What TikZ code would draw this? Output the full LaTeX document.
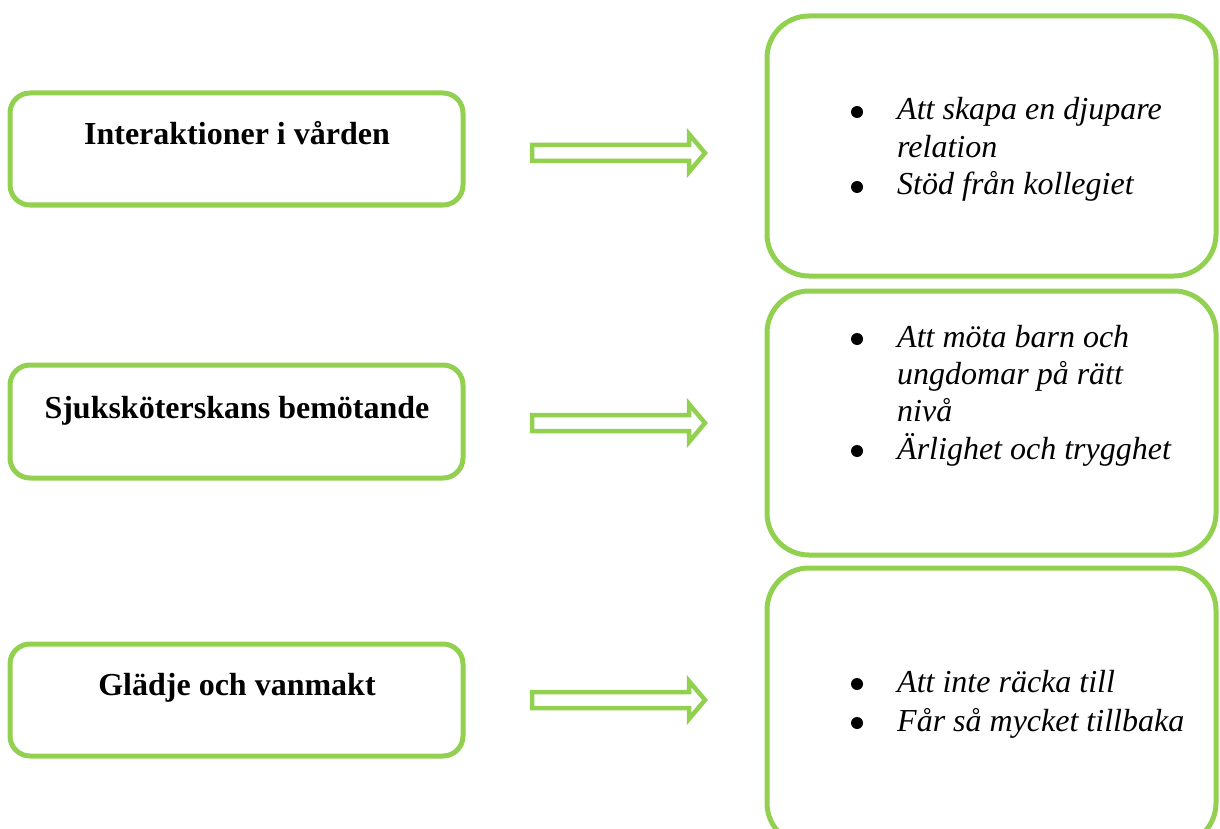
\documentclass[tikz,border=0pt]{standalone}
\usepackage{fontspec}
\setmainfont{Liberation Serif}
\definecolor{lgreen}{HTML}{92D050}
\begin{document}
\begin{tikzpicture}[x=1pt,y=-1pt,
  leftbox/.style={draw=lgreen,line width=5pt,rounded corners=20pt},
  rightbox/.style={draw=lgreen,line width=5pt,rounded corners=42pt},
  headtext/.style={font=\fontsize{32}{38}\selectfont\bfseries,anchor=base,inner sep=0pt},
  itemtext/.style={font=\fontsize{32}{38}\selectfont\itshape,anchor=base west,inner sep=0pt},
  bullet/.style={circle,fill=black,inner sep=0pt,minimum size=12pt},
  blockarrow/.style={draw=lgreen,line width=4.5pt,miter limit=10}]
\useasboundingbox (0,0) rectangle (1220,829);
% left boxes
\draw[leftbox] (10,93) rectangle (463,205);
\draw[leftbox] (10,365) rectangle (463,478);
\draw[leftbox] (10,644) rectangle (463,756);
\node[headtext] (h1) at (237,145) {Interaktioner i vården};
\node[headtext] (h2) at (237,418) {Sjuksköterskans bemötande};
\node[headtext] (h3) at (237,695) {Glädje och vanmakt};
% right boxes
\draw[rightbox] (767,16) rectangle (1216,276);
\draw[rightbox] (767,291) rectangle (1216,555);
\draw[rightbox] (767,568) rectangle (1216,845);
% arrows
\foreach \yc/\n in {153/a1,423/a2,700/a3}{
  \draw[blockarrow] (532,\yc-8) -- (689,\yc-8) -- (689,\yc-19) -- (705,\yc)
     -- (689,\yc+19) -- (689,\yc+8) -- (532,\yc+8) -- cycle;
}
% right texts
\node[bullet] (b11) at (857,112) {};
\node[itemtext] (t11) at (897,120) {Att skapa en djupare};
\node[itemtext] (t12) at (897,157.5) {relation};
\node[bullet] (b12) at (857,187) {};
\node[itemtext] (t13) at (897,195) {Stöd från kollegiet};
\node[bullet] (b21) at (857,339) {};
\node[itemtext] (t21) at (897,347) {Att möta barn och};
\node[itemtext] (t22) at (897,384) {ungdomar på rätt};
\node[itemtext] (t23) at (897,421) {nivå};
\node[bullet] (b22) at (857,451) {};
\node[itemtext] (t24) at (897,459) {Ärlighet och trygghet};
\node[bullet] (b31) at (857,684) {};
\node[itemtext] (t31) at (897,692) {Att inte räcka till};
\node[bullet] (b32) at (857,723) {};
\node[itemtext] (t32) at (897,731) {Får så mycket tillbaka};
\end{tikzpicture}
\end{document}
